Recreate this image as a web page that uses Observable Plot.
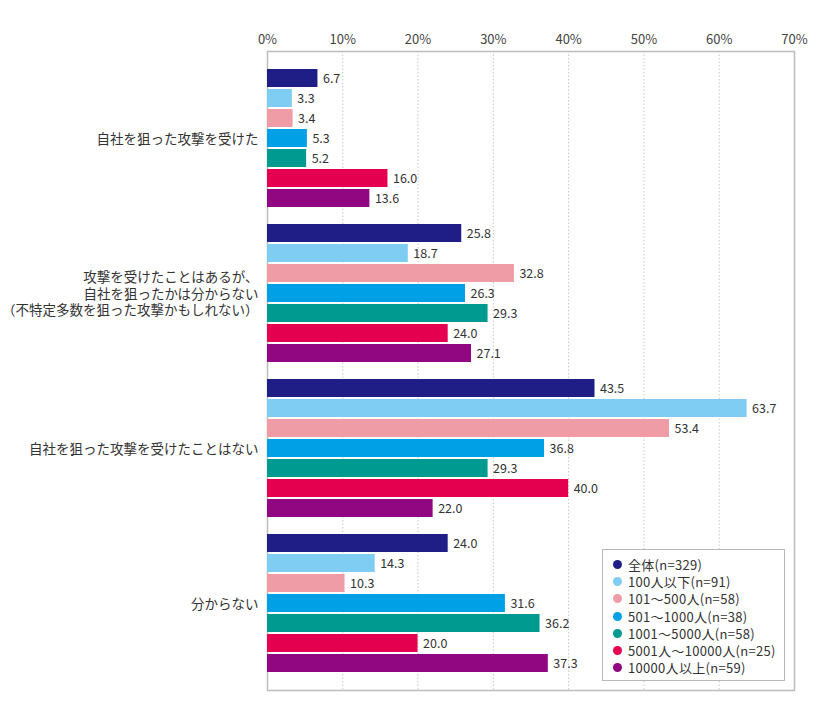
<!DOCTYPE html>
<html>
<head>
<meta charset="utf-8">
<script src="https://cdn.jsdelivr.net/npm/d3@7"></script>
<script src="https://cdn.jsdelivr.net/npm/@observablehq/plot@0.6"></script>
<style>
  body { margin: 0; background: #fff; font-family: "Noto Sans CJK JP", "Noto Sans", sans-serif; }
  #wrap { position: relative; width: 823px; height: 720px; }
  #wrap > svg, #wrap > figure { position: absolute; left: 0; top: 0; margin: 0; }
  #legend { position: absolute; left: 602px; top: 549px; width: 183px; height: 132px;
    border: 1.5px solid #b8b8b8; background: #fff; box-sizing: border-box; padding: 6px 0 0 10px; }
  #legend .row { display: flex; align-items: center; height: 17.2px; line-height: 17.2px; font-size: 13px; letter-spacing: 0.3px; color: #333; white-space: nowrap; }
  #legend .dot { width: 9px; height: 9px; border-radius: 50%; margin-right: 6px; flex: none; }
</style>
</head>
<body>
<div id="wrap"></div>
<script>
const categories = [
  "自社を狙った攻撃を受けた",
  "攻撃を受けたことはあるが、\n自社を狙ったかは分からない\n（不特定多数を狙った攻撃かもしれない）",
  "自社を狙った攻撃を受けたことはない",
  "分からない"
];
const series = ["全体", "100人以下", "101～500人", "501～1000人", "1001～5000人", "5001人～10000人", "10000人以上"];
const counts = [329, 91, 58, 38, 58, 25, 59];
const colors = ["#1e1e86", "#7fcdf2", "#f09ca6", "#00a0e6", "#009a90", "#e4004f", "#910781"];
const values = [
  [6.7, 3.3, 3.4, 5.3, 5.2, 16.0, 13.6],
  [25.8, 18.7, 32.8, 26.3, 29.3, 24.0, 27.1],
  [43.5, 63.7, 53.4, 36.8, 29.3, 40.0, 22.0],
  [24.0, 14.3, 10.3, 31.6, 36.2, 20.0, 37.3]
];
const xTicks = [0, 10, 20, 30, 40, 50, 60, 70];

const data = [];
categories.forEach((c, i) => series.forEach((s, j) => data.push({category: c, series: s, value: values[i][j]})));

const W = 823, H = 720;
const margins = {marginTop: 51, marginBottom: 30, marginLeft: 267, marginRight: 29};
const font = '"Noto Sans CJK JP", "Noto Sans", sans-serif';

// Background: grid, frame, axis
const bg = Plot.plot({
  width: W, height: H, ...margins,
  style: {fontFamily: font, background: "white"},
  x: {domain: [0, 70], ticks: xTicks, axis: null},
  marks: [
    Plot.ruleX(xTicks.filter(t => t > 0 && t < 70), {stroke: "#c8c8c8", strokeDasharray: "1.5,2", strokeWidth: 1}),
    Plot.axisX(xTicks, {anchor: "top", tickSize: 0, tickPadding: 8, tickFormat: d => d + "%", fontSize: 13, color: "#444"}),
    Plot.frame({stroke: "#bdbdbd", strokeWidth: 1.5})
  ]
});

// Foreground: faceted bars
const fg = Plot.plot({
  width: W, height: H, ...margins,
  style: {fontFamily: font, background: "transparent"},
  x: {domain: [0, 70], axis: null},
  fy: {domain: categories, axis: null, paddingInner: 0.1, paddingOuter: 0.1},
  y: {domain: series, axis: null, paddingInner: 0.1, paddingOuter: 0.05},
  color: {domain: series, range: colors},
  marks: [
    Plot.barX(data, {fy: "category", y: "series", x: "value", fill: "series"}),
    Plot.text(data, {fy: "category", y: "series", x: "value", text: d => d.value.toFixed(1),
      textAnchor: "start", dx: 5, fontSize: 12.5, fill: "#333"}),
    Plot.text(categories, {fy: d => d, text: d => d, frameAnchor: "left", textAnchor: "end",
      dx: -9, fontSize: 13.5, lineHeight: 1.22, fill: "#333"})
  ]
});

const wrap = document.getElementById("wrap");
wrap.appendChild(bg);
wrap.appendChild(fg);

const legend = document.createElement("div");
legend.id = "legend";
series.forEach((s, j) => {
  const row = document.createElement("div");
  row.className = "row";
  const dot = document.createElement("span");
  dot.className = "dot";
  dot.style.background = colors[j];
  const t = document.createElement("span");
  t.textContent = `${s}(n=${counts[j]})`;
  row.appendChild(dot);
  row.appendChild(t);
  legend.appendChild(row);
});
wrap.appendChild(legend);
</script>
</body>
</html>
